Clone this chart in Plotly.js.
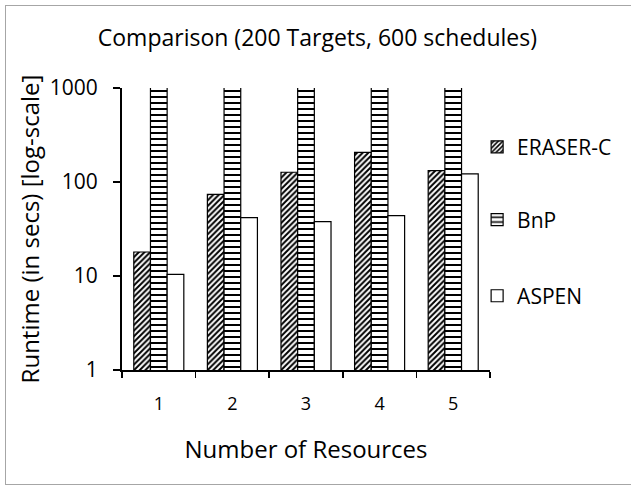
<!DOCTYPE html>
<html>
<head>
<meta charset="utf-8">
<script src="https://cdn.plot.ly/plotly-3.0.1.min.js"></script>
<style>
html,body{margin:0;padding:0;overflow:hidden;background:#fff;}
#chart{position:absolute;left:0;top:0;width:631px;height:485px;}
#frame{position:absolute;left:5px;top:5px;width:700px;height:478px;border:1px solid #a6a6a6;pointer-events:none;}
</style>
</head>
<body>
<div id="chart"></div>
<div id="frame"></div>
<script>
const categories = ["1", "2", "3", "4", "5"];
const eraserC = [18, 74, 127, 207, 132];
const bnp = [3000, 3000, 3000, 3000, 3000];
const aspen = [10.4, 41.7, 37.8, 43.8, 122];

const FONT = "Open Sans, sans-serif";
const lineStyle = {color: "black", width: 1.2};

const traces = [
  {
    type: "bar", name: "ERASER-C", x: categories, y: eraserC,
    marker: {color: "white", line: lineStyle,
      pattern: {shape: "/", fgcolor: "black", bgcolor: "white", size: 4, solidity: 0.5}},
    legend: "legend"
  },
  {
    type: "bar", name: "BnP", x: categories, y: bnp,
    marker: {color: "white", line: lineStyle,
      pattern: {shape: "-", fgcolor: "black", bgcolor: "white", size: 6, solidity: 0.33}},
    legend: "legend2"
  },
  {
    type: "bar", name: "ASPEN", x: categories, y: aspen,
    marker: {color: "white", line: lineStyle},
    legend: "legend3"
  }
];

const legendBase = {
  xanchor: "left", yanchor: "middle", x: 0.965,
  font: {family: FONT, size: 21, color: "black"},
  bgcolor: "rgba(0,0,0,0)", borderwidth: 0, itemwidth: 30
};

const layout = {
  width: 631, height: 485,
  margin: {l: 122, r: 141, t: 88, b: 115},
  paper_bgcolor: "white", plot_bgcolor: "white",
  font: {family: FONT, color: "black"},
  title: {
    text: "Comparison (200 Targets, 600 schedules)",
    font: {family: FONT, size: 23, color: "black"},
    xref: "container", x: 0.503, xanchor: "center",
    yref: "container", y: 0.922, yanchor: "middle"
  },
  barmode: "group",
  bargap: 0.32,
  bargroupgap: 0,
  xaxis: {
    type: "category",
    tickson: "boundaries",
    ticks: "outside", ticklen: 6, tickwidth: 1.5, tickcolor: "black",
    showline: true, linecolor: "black", linewidth: 2,
    showgrid: false, zeroline: false,
    tickfont: {family: FONT, size: 18, color: "black"},
    ticklabelstandoff: 16,
    title: {text: "Number of Resources", font: {family: FONT, size: 24, color: "black"}, standoff: 28},
    automargin: false
  },
  yaxis: {
    type: "log",
    range: [0, 3],
    dtick: 1,
    tickvals: [1, 10, 100, 1000],
    ticktext: ["1", "10", "100", "1000"],
    ticks: "outside", ticklen: 7, tickwidth: 1.5, tickcolor: "black",
    showline: true, linecolor: "black", linewidth: 2,
    showgrid: false, zeroline: false,
    tickfont: {family: FONT, size: 21, color: "black"},
    ticklabelstandoff: 11,
    title: {text: "Runtime (in secs) [log-scale]", font: {family: FONT, size: 24, color: "black"}, standoff: 3},
    automargin: false
  },
  legend: Object.assign({}, legendBase, {y: 0.79}),
  legend2: Object.assign({}, legendBase, {y: 0.532}),
  legend3: Object.assign({}, legendBase, {y: 0.262}),
  showlegend: true
};

Plotly.newPlot("chart", traces, layout, {displayModeBar: false, staticPlot: true});
</script>
</body>
</html>
